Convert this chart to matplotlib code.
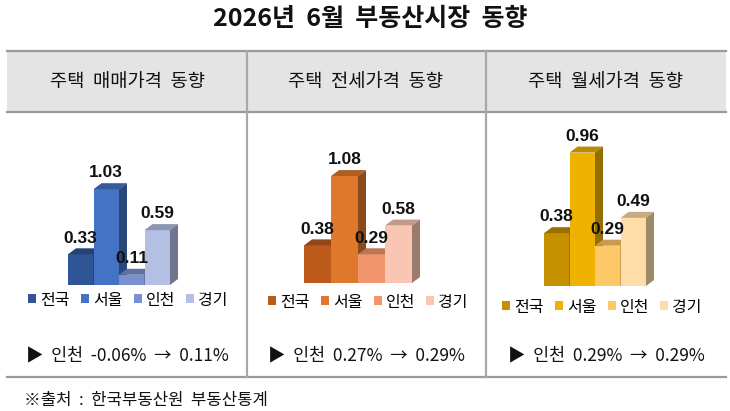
import matplotlib
matplotlib.use("Agg")
import matplotlib.pyplot as plt
from matplotlib.patches import Rectangle, Polygon, Patch
from matplotlib.colors import to_rgb

plt.rcParams['font.family'] = ['Noto Sans CJK KR', 'DejaVu Sans']

# data
title = "2026년  6월  부동산시장  동향"
panel_titles = ["주택  매매가격  동향", "주택  전세가격  동향", "주택  월세가격  동향"]
regions = ["전국", "서울", "인천", "경기"]
sale_vals = [0.33, 1.03, 0.11, 0.59]
jeonse_vals = [0.38, 1.08, 0.29, 0.58]
wolse_vals = [0.38, 0.96, 0.29, 0.49]
notes = ["▶  인천  -0.06%  →  0.11%", "▶  인천  0.27%  →  0.29%", "▶  인천  0.29%  →  0.29%"]
source = "※출처  :  한국부동산원  부동산통계"

sale_colors = ["#2F5597", "#4472C4", "#7B90D0", "#B4BFE4"]
jeonse_colors = ["#BC5A1C", "#E0782C", "#F1966C", "#F8C6B2"]
wolse_colors = ["#C49000", "#EFB200", "#FDC868", "#FFDDA8"]

W, H = 730, 411
fig = plt.figure(figsize=(W / 100, H / 100), dpi=100)
bg = fig.add_axes([0, 0, 1, 1])
bg.set_xlim(0, W)
bg.set_ylim(H, 0)
bg.axis("off")

# title
bg.text(370, 19, title, ha="center", va="center", fontsize=18, fontweight="bold", color="#111111")

# table frame
left, right = 7, 726
top, head_bot, bottom = 51, 112, 377
seps = [247, 486]
bg.add_patch(Rectangle((left, top), right - left, head_bot - top, facecolor="#E4E4E4", edgecolor="none"))
for y in (top, head_bot, bottom):
    bg.plot([left, right], [y, y], color="#9A9A9A", lw=1.6)
for x in seps:
    bg.plot([x, x], [top, bottom], color="#A8A8A8", lw=1.6)

col_centers = [127, 366, 606]
for cx, t in zip(col_centers, panel_titles):
    bg.text(cx, 82, t, ha="center", va="center", fontsize=13.5, color="#111111")
for cx, t in zip(col_centers, notes):
    bg.text(cx, 355, t, ha="center", va="center", fontsize=12.5, color="#111111")
bg.text(24, 400, source, ha="left", va="center", fontsize=12, color="#111111")


def shade(c, f):
    r, g, b = to_rgb(c)
    return (r * f, g * f, b * f)


def bar3d(x0_px, bw_px, base_px, scale_px, vals, colors, legend_y, legend_x):
    # axes in pixel rectangle; data units: bar index / value
    pad_l, pad_r, h_px = 12, 24, 175
    ax = fig.add_axes([(x0_px - pad_l) / W, (H - base_px) / H,
                       (4 * bw_px + pad_l + pad_r) / W, h_px / H])
    ax.set_xlim(-pad_l / bw_px, 4 + pad_r / bw_px)
    ax.set_ylim(0, h_px / scale_px)
    ax.axis("off")
    dx = 8 / bw_px
    dy = 6 / scale_px
    for i, (v, c) in enumerate(zip(vals, colors)):
        ax.bar(i, v, width=1, align="edge", color=c, edgecolor="none", zorder=3 + i)
        top_face = [(i, v), (i + 1, v), (i + 1 + dx, v + dy), (i + dx, v + dy)]
        side_face = [(i + 1, 0), (i + 1, v), (i + 1 + dx, v + dy), (i + 1 + dx, dy)]
        ax.add_patch(Polygon(top_face, closed=True, facecolor=shade(c, 0.78), edgecolor="none", zorder=3 + i))
        ax.add_patch(Polygon(side_face, closed=True, facecolor=shade(c, 0.62), edgecolor="none", zorder=3 + i))
    for i, v in enumerate(vals):
        ax.annotate(f"{v:.2f}", (i + 0.5, v + dy), xytext=(0, 2), textcoords="offset points",
                    ha="center", va="bottom", fontsize=12.5, fontweight="bold",
                    family=["Liberation Sans", "DejaVu Sans"], color="#111111", zorder=20)
    handles = [Patch(facecolor=c, edgecolor="none") for c in colors]
    fig.legend(handles, regions, loc="center", bbox_to_anchor=(legend_x, legend_y),
               bbox_transform=bg.transData, ncol=4, frameon=False, fontsize=11.5,
               handlelength=0.5, handleheight=0.5, handletextpad=0.25, columnspacing=0.7,
               borderaxespad=0, borderpad=0)


bar3d(68, 25.5, 285, 93, sale_vals, sale_colors, 300, 128)
bar3d(304, 27, 283, 99, jeonse_vals, jeonse_colors, 302, 368)
bar3d(544, 25.5, 286, 139, wolse_vals, wolse_colors, 307, 602)

fig.savefig("out.png", dpi=100)
